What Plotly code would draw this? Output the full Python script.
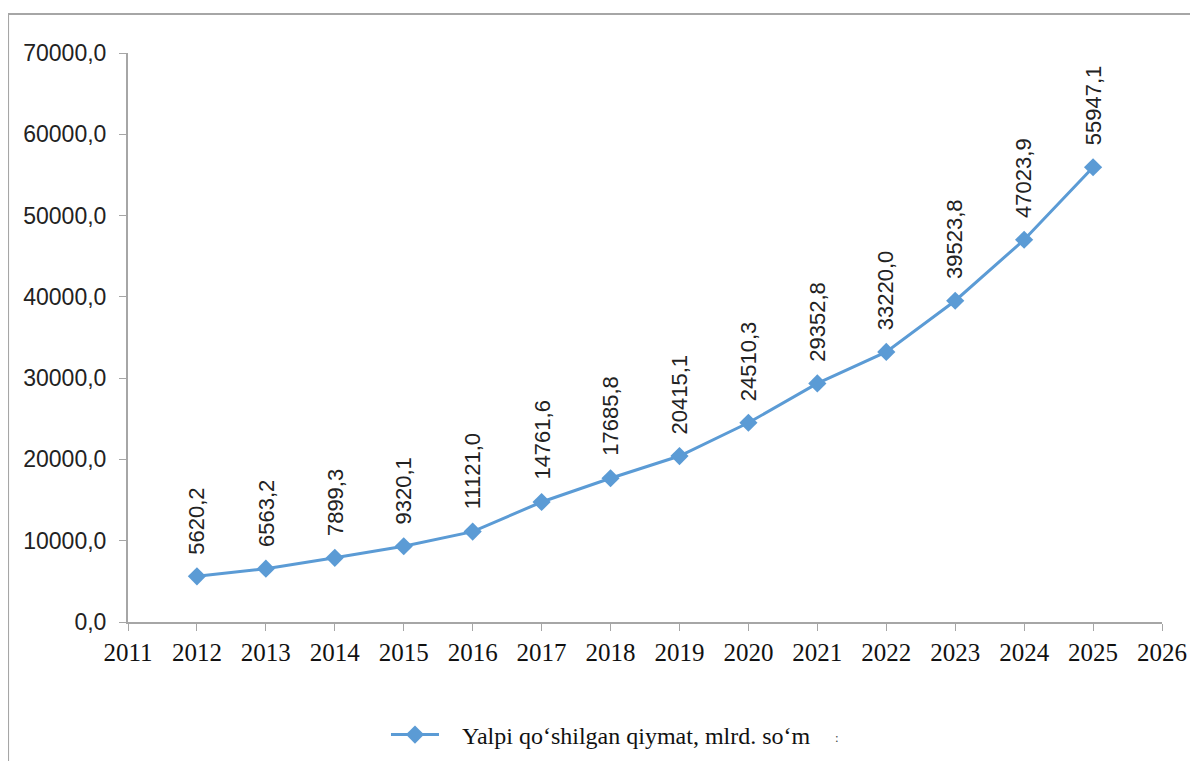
import plotly.graph_objects as go

# Данные графика
years = [2012, 2013, 2014, 2015, 2016, 2017, 2018, 2019, 2020, 2021, 2022, 2023, 2024, 2025]
values = [5620.2, 6563.2, 7899.3, 9320.1, 11121.0, 14761.6, 17685.8, 20415.1,
          24510.3, 29352.8, 33220.0, 39523.8, 47023.9, 55947.1]
series_name = "Yalpi qo‘shilgan qiymat, mlrd. so‘m"
x_ticks = list(range(2011, 2027))
y_ticks = [0, 10000, 20000, 30000, 40000, 50000, 60000, 70000]

line_color = "#5B9BD5"
sans = "Liberation Sans"
serif = "Liberation Serif"

fig = go.Figure()

fig.add_trace(go.Scatter(
    x=years,
    y=values,
    mode="lines+markers",
    name="\u00a0\u00a0\u00a0" + series_name,
    line=dict(color=line_color, width=3),
    marker=dict(symbol="diamond", size=14, color=line_color),
))

# подписи значений, повернутые на 90 градусов
annotations = []
for x, v in zip(years, values):
    annotations.append(dict(
        x=x, y=v, xref="x", yref="y",
        text=f"{v:.1f}".replace(".", ","),
        textangle=-90,
        showarrow=False,
        xanchor="center", yanchor="bottom",
        yshift=20,
        font=dict(family=sans, size=22, color="#222222"),
    ))

# маленькое двоеточие после легенды
annotations.append(dict(
    x=0.69, y=-0.219, xref="paper", yref="paper",
    text=":", showarrow=False,
    font=dict(family=serif, size=13, color="#444444"),
))

# страница браузера сдвигает график на 8px, поэтому размеры меньше на 8
fig.update_layout(
    width=1190,
    height=753,
    autosize=False,
    margin=dict(l=120, r=36, t=45, b=139),
    paper_bgcolor="white",
    plot_bgcolor="white",
    separators=",.",
    showlegend=True,
    legend=dict(
        orientation="h",
        x=0.2495, y=0.0345,
        xref="paper", yref="container",
        xanchor="left", yanchor="middle",
        font=dict(family=serif, size=24, color="#111111"),
        itemwidth=48,
    ),
    annotations=annotations,
    shapes=[dict(
        type="rect", xref="paper", yref="paper",
        x0=-0.116, y0=-0.3, x1=1.1, y1=1.0685,
        line=dict(color="#a6a6a6", width=2),
        layer="below",
    )],
)

fig.update_xaxes(
    range=[2011, 2026],
    tickvals=x_ticks,
    ticktext=[str(t) for t in x_ticks],
    showgrid=False,
    zeroline=False,
    showline=True,
    linecolor="#a6a6a6",
    linewidth=2,
    ticks="outside",
    ticklen=7,
    tickcolor="#a6a6a6",
    tickfont=dict(family=serif, size=25, color="#111111"),
)

fig.update_yaxes(
    range=[0, 70000],
    tickvals=y_ticks,
    tickformat=".1f",
    showgrid=False,
    zeroline=False,
    showline=True,
    linecolor="#a6a6a6",
    linewidth=2,
    ticks="outside",
    ticklen=7,
    tickcolor="#a6a6a6",
    ticklabelstandoff=8,
    tickfont=dict(family=sans, size=23, color="#222222"),
)

fig.write_html("out.html")
